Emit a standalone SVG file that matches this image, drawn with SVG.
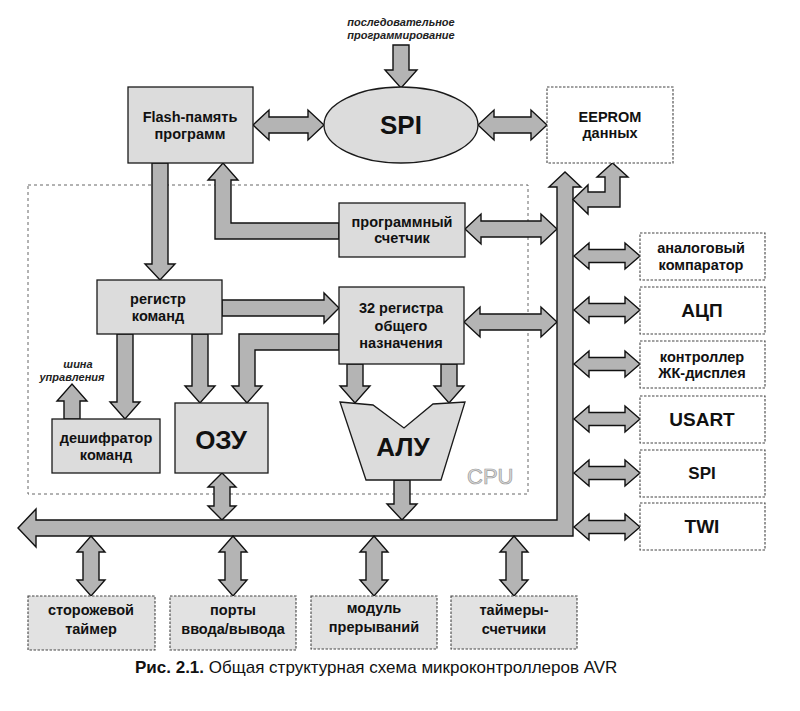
<svg xmlns="http://www.w3.org/2000/svg" width="800" height="711" viewBox="0 0 800 711">
<style>
.box{fill:#dcdcdc;stroke:#1a1a1a;stroke-width:1.3}
.pbox{fill:#ffffff;stroke:#444;stroke-width:1.1;stroke-dasharray:2.5 1.5}
.bbox{fill:#e2e2e2;stroke:#444;stroke-width:1.1;stroke-dasharray:2.5 1.5}
.arr{fill:#b4b4b4;stroke:#111;stroke-width:1.4;stroke-linejoin:miter}
.cpu{fill:none;stroke:#666;stroke-width:1;stroke-dasharray:3 3}
.t{font-family:"Liberation Sans",Arial,sans-serif;font-weight:bold;font-size:14.5px;text-anchor:middle;fill:#111}
.big{font-size:26px}
.mid{font-size:19px}
.it{font-family:"Liberation Sans",Arial,sans-serif;font-weight:bold;font-style:italic;font-size:11px;text-anchor:middle;fill:#222}
.cap{font-family:"Liberation Sans",Arial,sans-serif;font-size:17px;fill:#111}
</style>
<rect width="800" height="711" fill="#ffffff"/>
<rect class="cpu" x="28" y="185" width="500" height="309"/>
<text x="467" y="484" style="font-family:'Liberation Sans',Arial,sans-serif;font-size:22px;fill:#dcdcdc;stroke:#9a9a9a;stroke-width:0.7">CPU</text>

<g id="connectors">
<path class="arr" d="M393,45 L409,45 L409,70 L417,70 L401,88 L385,70 L393,70 Z"/>
<path class="arr" d="M253,125 L269,110 L269,117 L308,117 L308,110 L324,125 L308,140 L308,133 L269,133 L269,140 Z"/>
<path class="arr" d="M478,125 L494,110 L494,117 L531,117 L531,110 L547,125 L531,140 L531,133 L494,133 L494,140 Z"/>
<path class="arr" d="M152,163 L168,163 L168,264 L175,264 L160,280 L145,264 L152,264 Z"/>
<path class="arr" d="M339,223 L231,223 L231,180 L238,180 L223,163 L208,180 L215,180 L215,239 L339,239 Z"/>
<path class="arr" d="M465,229 L481,214 L481,221 L541,221 L541,214 L557,229 L541,244 L541,237 L481,237 L481,244 Z"/>
<path class="arr" d="M222,300 L324,300 L324,293 L339,308 L324,323 L324,316 L222,316 Z"/>
<path class="arr" d="M464,322 L480,307 L480,314 L541,314 L541,307 L557,322 L541,337 L541,330 L480,330 L480,337 Z"/>
<path class="arr" d="M339,334 L239,334 L239,386 L232,386 L247,403 L262,386 L255,386 L255,350 L339,350 Z"/>
<path class="arr" d="M192,334 L208,334 L208,386 L215,386 L200,403 L185,386 L192,386 Z"/>
<path class="arr" d="M117,334 L133,334 L133,402 L140,402 L125,419 L110,402 L117,402 Z"/>
<path class="arr" d="M64,419 L80,419 L80,401 L87,401 L72,384 L57,401 L64,401 Z"/>
<path class="arr" d="M347,364 L363,364 L363,386 L370,386 L355,403 L340,386 L347,386 Z"/>
<path class="arr" d="M441,364 L457,364 L457,386 L464,386 L449,403 L434,386 L441,386 Z"/>
<path class="arr" d="M222,473 L236,487 L230,487 L230,506 L236,506 L222,520 L208,506 L214,506 L214,487 L208,487 Z"/>
<path class="arr" d="M394,480 L410,480 L410,504 L417,504 L402,520 L387,504 L394,504 Z"/>
<path class="arr" d="M18,528 L36,509 L36,520 L557,520 L557,187 L549,187 L565,172 L581,187 L573,187 L573,536 L36,536 L36,547 Z"/>
<path class="arr" d="M573,199.5 L588,185 L588,192 L605,192 L605,177 L597,177 L612.5,163 L628,177 L620,177 L620,207 L588,207 L588,214 Z"/>
<path class="arr" d="M574,256 L589,243 L589,249.5 L625,249.5 L625,243 L640,256 L625,269 L625,262.5 L589,262.5 L589,269 Z"/>
<path class="arr" d="M574,310 L589,297 L589,303.5 L625,303.5 L625,297 L640,310 L625,323 L625,316.5 L589,316.5 L589,323 Z"/>
<path class="arr" d="M574,364 L589,351 L589,357.5 L625,357.5 L625,351 L640,364 L625,377 L625,370.5 L589,370.5 L589,377 Z"/>
<path class="arr" d="M574,419 L589,406 L589,412.5 L625,412.5 L625,406 L640,419 L625,432 L625,425.5 L589,425.5 L589,432 Z"/>
<path class="arr" d="M574,473 L589,460 L589,466.5 L625,466.5 L625,460 L640,473 L625,486 L625,479.5 L589,479.5 L589,486 Z"/>
<path class="arr" d="M574,527 L589,514 L589,520.5 L625,520.5 L625,514 L640,527 L625,540 L625,533.5 L589,533.5 L589,540 Z"/>
<path class="arr" d="M91,536 L105,552 L99,552 L99,580 L105,580 L91,596 L77,580 L83,580 L83,552 L77,552 Z"/>
<path class="arr" d="M233,536 L247,552 L241,552 L241,580 L247,580 L233,596 L219,580 L225,580 L225,552 L219,552 Z"/>
<path class="arr" d="M374,536 L388,552 L382,552 L382,580 L388,580 L374,596 L360,580 L366,580 L366,552 L360,552 Z"/>
<path class="arr" d="M514,536 L528,552 L522,552 L522,580 L528,580 L514,596 L500,580 L506,580 L506,552 L500,552 Z"/>
</g>

<text class="it" x="401" y="26">последовательное</text>
<text class="it" x="401" y="39">программирование</text>
<text class="it" x="78" y="368">шина</text>
<text class="it" x="72" y="381">управления</text>

<g id="flash">
<rect class="box" x="128" y="87" width="125" height="76"/>
<text class="t" x="190" y="122">Flash-память</text>
<text class="t" x="190" y="139">программ</text>
</g>
<g id="spi-main">
<ellipse class="box" cx="401" cy="125" rx="77" ry="38"/>
<text class="t big" x="401" y="134">SPI</text>
</g>
<g id="eeprom">
<rect class="pbox" x="547" y="87" width="126" height="76"/>
<text class="t" x="610" y="122">EEPROM</text>
<text class="t" x="610" y="138">данных</text>
</g>
<g id="pc">
<rect class="box" x="339" y="203" width="126" height="54"/>
<text class="t" x="402" y="227">программный</text>
<text class="t" x="402" y="243">счетчик</text>
</g>
<g id="ir">
<rect class="box" x="97" y="280" width="125" height="54"/>
<text class="t" x="158" y="304">регистр</text>
<text class="t" x="158" y="321">команд</text>
</g>
<g id="regs">
<rect class="box" x="339" y="287" width="125" height="77"/>
<text class="t" x="401" y="313">32 регистра</text>
<text class="t" x="401" y="331">общего</text>
<text class="t" x="401" y="348">назначения</text>
</g>
<g id="decoder">
<rect class="box" x="52" y="419" width="108" height="54"/>
<text class="t" x="106" y="443">дешифратор</text>
<text class="t" x="106" y="460">команд</text>
</g>
<g id="ram">
<rect class="box" x="175" y="403" width="93" height="70"/>
<text class="t big" x="221" y="449">ОЗУ</text>
</g>
<g id="alu">
<polygon class="box" points="340,402 373,405 404,428 433,404 465,402 441,480 366,480"/>
<text class="t big" x="403" y="456">АЛУ</text>
</g>

<g id="comparator">
<rect class="pbox" x="640" y="233" width="125" height="47"/>
<text class="t" x="701" y="253">аналоговый</text>
<text class="t" x="701" y="270">компаратор</text>
</g>
<g id="adc">
<rect class="pbox" x="640" y="287" width="125" height="47"/>
<text class="t mid" x="702" y="317">АЦП</text>
</g>
<g id="lcd">
<rect class="pbox" x="640" y="341" width="125" height="47"/>
<text class="t" x="702" y="362">контроллер</text>
<text class="t" x="702" y="378">ЖК-дисплея</text>
</g>
<g id="usart">
<rect class="pbox" x="640" y="396" width="125" height="47"/>
<text class="t mid" x="702" y="426">USART</text>
</g>
<g id="spi-per">
<rect class="pbox" x="640" y="450" width="125" height="47"/>
<text class="t" style="font-size:17px" x="702" y="479">SPI</text>
</g>
<g id="twi">
<rect class="pbox" x="640" y="503" width="125" height="47"/>
<text class="t mid" x="702" y="533">TWI</text>
</g>

<g id="watchdog">
<rect class="bbox" x="28" y="596" width="127" height="54"/>
<text class="t" x="91" y="615">сторожевой</text>
<text class="t" x="91" y="634">таймер</text>
</g>
<g id="ports">
<rect class="bbox" x="170" y="596" width="126" height="54"/>
<text class="t" x="233" y="615">порты</text>
<text class="t" x="233" y="634">ввода/вывода</text>
</g>
<g id="irq">
<rect class="bbox" x="311" y="596" width="126" height="53"/>
<text class="t" x="374" y="613">модуль</text>
<text class="t" x="374" y="632">прерываний</text>
</g>
<g id="timers">
<rect class="bbox" x="451" y="596" width="126" height="53"/>
<text class="t" x="514" y="615">таймеры-</text>
<text class="t" x="514" y="634">счетчики</text>
</g>

<text class="cap" x="135" y="673"><tspan font-weight="bold">Рис. 2.1.</tspan> Общая структурная схема микроконтроллеров AVR</text>
</svg>
